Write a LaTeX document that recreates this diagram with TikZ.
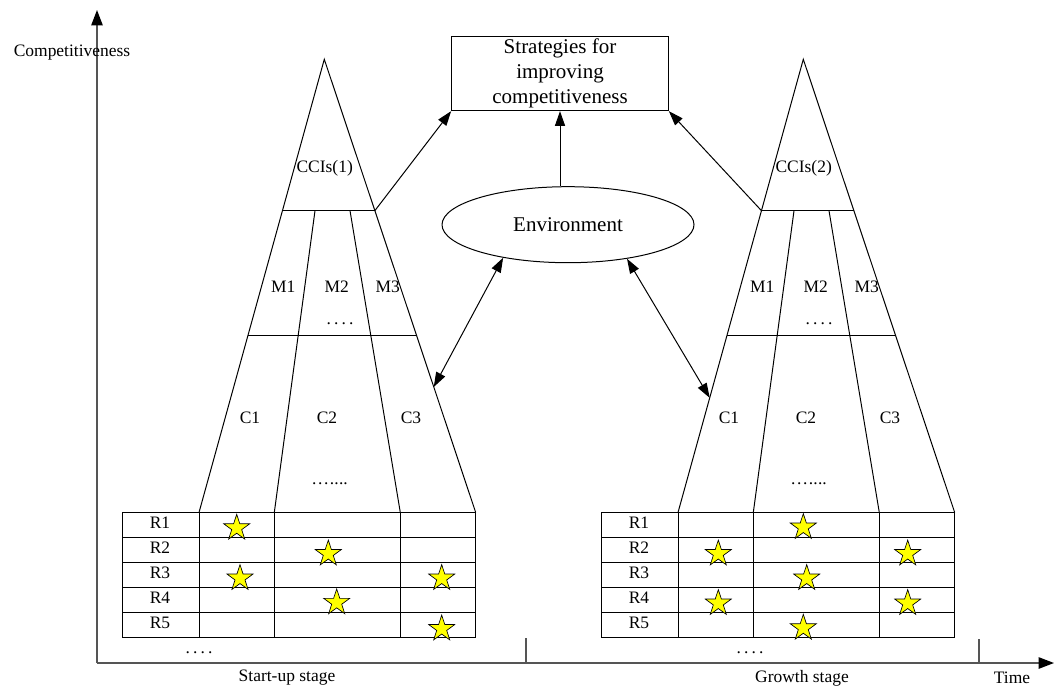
\documentclass[tikz,border=0pt]{standalone}
\usepackage{fontspec}
\setmainfont{Liberation Serif}
\usetikzlibrary{shapes.geometric,arrows.meta,calc}
\definecolor{axisgray}{RGB}{85,85,85}
\definecolor{staryellow}{RGB}{255,255,0}
% spaced dot leaders
\newcommand{\spdot}{.\kern0.18em}
\newcommand{\fourdots}{\spdot\spdot\spdot.}
\newcommand{\sixdots}{.\kern0.09em.\kern0.09em.\kern0.09em..\kern0.02em..}

\begin{document}
\begin{tikzpicture}[x=0.75pt,y=-0.75pt,
  line width=0.75pt,
  lbl/.style={font=\fontsize{13.1}{15}\selectfont, inner sep=0pt},
  dots/.style={lbl, anchor=base},
  big/.style={font=\fontsize{15.75}{18.75}\selectfont},
  arr/.style={-{Triangle[length=11pt,width=7.5pt]}},
  darr/.style={{Triangle[length=11pt,width=7.5pt]}-{Triangle[length=11pt,width=7.5pt]}},
  axis/.style={draw=axisgray, line width=1.1pt},
  axtip/.style={-{Triangle[length=11.5pt,width=8.5pt,color=black]}},
  starmark/.style={star, star points=5, star point ratio=2.6, draw=black,
    line width=0.5pt, fill=staryellow, minimum size=20.5pt, inner sep=0pt},
]
\useasboundingbox (0,0) rectangle (1055,691);

% axes
\coordinate (O) at (97,663);
\coordinate (ytip) at (97,10);
\coordinate (xtip) at (1054,663);
\draw[axis, axtip] (O) -- (ytip);
\draw[axis, axtip] (O) -- (xtip);
\draw[axis] (526,638) -- (526,663);
\draw[axis] (979,639) -- (979,663);

\node[lbl] (ylabel) at (72,53) {Competitiveness};
\node[lbl] (stage1) at (287,678) {Start-up stage};
\node[lbl] (stage2) at (802,678) {Growth stage};
\node[lbl] (timelbl) at (1012,678) {Time};

% goal box and environment
\node[draw, big, align=center, minimum width=162.5pt, minimum height=55.7pt,
      inner sep=0pt] (box) at (560,73.5)
      {Strategies for\\improving\\competitiveness};
\node[draw, ellipse, big, minimum width=189pt, minimum height=57pt,
      inner sep=0pt] (env) at (568,224.7) {Environment};

% two capability pyramids with their resource tables
\foreach \s/\dx in {1/0, 2/479}{
  \begin{scope}[shift={(\dx,0)}]
    \coordinate (apex\s) at (324.3,59.3);
    \coordinate (bl\s) at (199,512.5);
    \coordinate (br\s) at (475.7,512.5);
    \coordinate (cl\s) at ($(apex\s)!0.334!(bl\s)$);
    \coordinate (cr\s) at ($(apex\s)!0.334!(br\s)$);
    \coordinate (ml\s) at ($(apex\s)!0.610!(bl\s)$);
    \coordinate (mr\s) at ($(apex\s)!0.610!(br\s)$);
    \coordinate (da\s) at (315,210.7);
    \coordinate (db\s) at (274.3,512.5);
    \coordinate (dc\s) at (350,210.7);
    \coordinate (dd\s) at (400.3,512.5);
    \draw (bl\s) -- (apex\s) -- (br\s);
    \draw (cl\s) -- (cr\s);
    \draw (ml\s) -- (mr\s);
    \draw (da\s) -- (db\s);
    \draw (dc\s) -- (dd\s);
    % table
    \draw (122.7,512.5) rectangle (475.7,637.5);
    \foreach \yy in {537.5,562.5,587.5,612.5}
      \draw (122.7,\yy) -- (475.7,\yy);
    \foreach \xx in {199,274.3,400.3}
      \draw (\xx,512.5) -- (\xx,637.5);
    \foreach \r/\yy in {1/523,2/548,3/573,4/598,5/623}
      \node[lbl] (R\s-\r) at (160,\yy) {R\r};
    % labels
    \node[lbl] (ccis\s) at (324.7,168.3) {CCIs(\s)};
    \node[lbl] (M\s-1) at (283.3,286.7) {M1};
    \node[lbl] (M\s-2) at (336.7,286.7) {M2};
    \node[lbl] (M\s-3) at (387.7,286.7) {M3};
    \node[dots] (mdots\s) at (340,324.5) {\fourdots};
    \node[lbl] (C\s-1) at (250,418.3) {C1};
    \node[lbl] (C\s-2) at (327,418.3) {C2};
    \node[lbl] (C\s-3) at (411,418.3) {C3};
    \node[dots] (cdots\s) at (330,484) {\sixdots};
  \end{scope}
}
\node[dots] (rdots1) at (199,653.5) {\fourdots};
\node[dots] (rdots2) at (750,653.5) {\fourdots};

% stars marking used resources
\foreach \x/\y [count=\i] in {236.7/528,328.3/553.8,240/578.3,441.7/578.3,
    336.7/602.6,441.7/628.8}
  \node[starmark] (sa\i) at (\x,\y) {};
\foreach \x/\y [count=\i] in {803.3/527.3,718.3/553.8,907.7/553.8,806.7/578.3,
    718.3/603.3,907.7/603.3,803.3/628}
  \node[starmark] (sb\i) at (\x,\y) {};

% connectors
\coordinate (hook1) at ($(apex1)!0.723!(br1)$);
\coordinate (hook2) at ($(apex2)!0.747!(bl2)$);
\draw[arr] (cr1) -- (box.south west);
\draw[arr] (cl2) -- (box.south east);
\draw[arr] (env.north -| box.south) -- (box.south);
\draw[darr] (env.207) -- (hook1);
\draw[darr] (env.330) -- (hook2);
\end{tikzpicture}
\end{document}
